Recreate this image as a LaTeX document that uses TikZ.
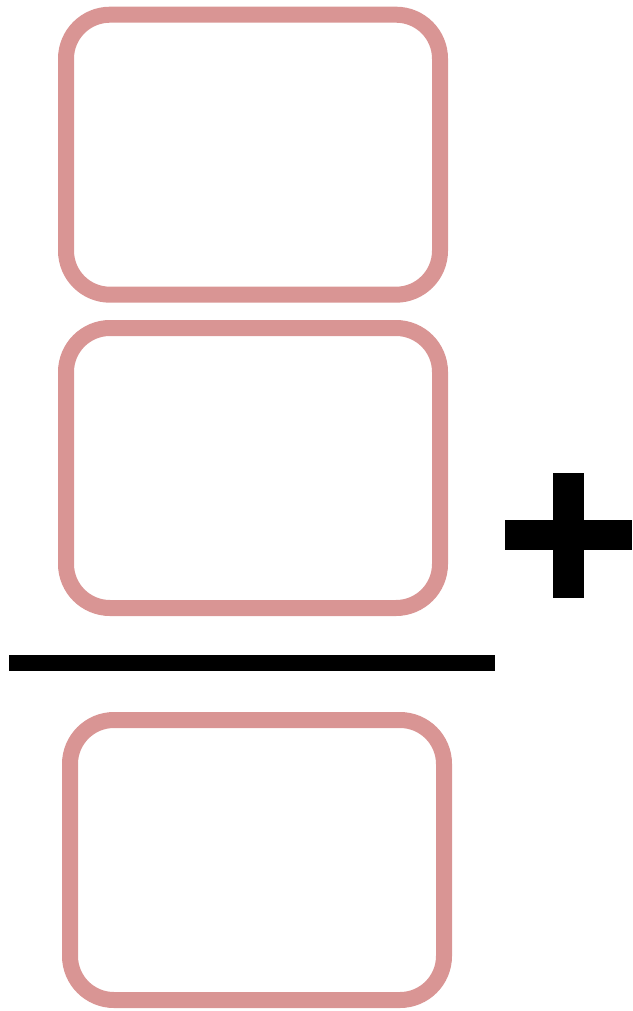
\documentclass[tikz,border=0pt]{standalone}
\definecolor{boxpink}{HTML}{D99594}
\begin{document}
\begin{tikzpicture}[x=1pt,y=-1pt,
  cardbox/.style={draw=boxpink, line width=16pt, rounded corners=44pt, minimum width=374pt, minimum height=280pt, inner sep=0pt, outer sep=0pt},
  bar/.style={fill=black, draw=none}]
\useasboundingbox (0,0) rectangle (632,1011);
\node[cardbox] (b1) at (253,154.7) {};
\node[cardbox] (b2) at (253,468) {};
\node[cardbox] (b3) at (257,860) {};
\coordinate (l1) at (9,662.5);
\coordinate (l2) at (494.5,662.5);
\draw[line width=16pt] (l1) -- (l2);
\fill[bar] (553.3,473.3) rectangle (584.3,598.3);
\fill[bar] (505,520.3) rectangle (632,550.3);
\end{tikzpicture}
\end{document}
